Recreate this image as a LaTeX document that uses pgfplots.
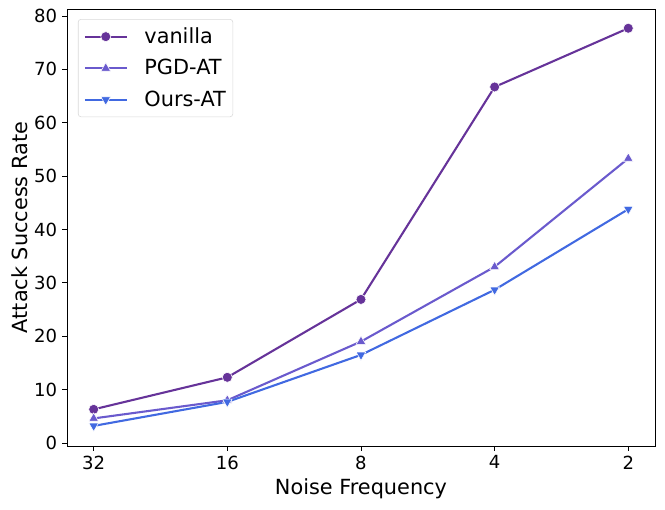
\documentclass[border=0pt]{standalone}
\usepackage{pgfplots}
\pgfplotsset{compat=1.18}
\usepackage{fontspec}
\setmainfont{DejaVu Sans}
\definecolor{cvan}{HTML}{663399}
\definecolor{cpgd}{HTML}{6A5ACD}
\definecolor{cours}{HTML}{4169E1}
\begin{document}
\begin{tikzpicture}
\begin{axis}[
  scale only axis,
  width=423.4pt, height=314.6pt,
  xmin=-0.2, xmax=4.2,
  ymin=-0.56, ymax=81.3,
  xtick={0,1,2,3,4},
  xticklabels={32,16,8,4,2},
  ytick={0,10,20,30,40,50,60,70,80},
  tick align=outside,
  tick pos=left,
  major tick length=3.5pt,
  tick style={black, line width=0.6pt},
  axis line style={line width=0.6pt},
  ticklabel style={font=\fontsize{13}{15}\selectfont},
  /pgf/number format/assume math mode=true,
  xlabel={Noise Frequency},
  ylabel={Attack Success Rate},
  label style={font=\fontsize{15}{17}\selectfont},
  xlabel style={yshift=0pt},
  ylabel style={yshift=-2pt},
  legend style={at={(0.0187,0.977)}, anchor=north west, font=\fontsize{15}{17}\selectfont,
     draw=black!15, rounded corners=2pt, inner xsep=4pt, inner ysep=5pt, row sep=8pt,
     nodes={inner sep=1pt},
     /tikz/every odd column/.append style={column sep=11pt}},
  legend cell align=left,
  legend image code/.code={\draw[line width=1.5pt, mark repeat=2,mark phase=2] plot coordinates {(0cm,0cm) (0.53cm,0cm) (1.06cm,0cm)};},
  every axis plot/.append style={line width=1.5pt},
]
\addplot[cvan, mark=*, mark size=3.6pt, mark options={draw=white, fill=cvan, line width=0.4pt}]
  coordinates {(0,6.3) (1,12.3) (2,26.9) (3,66.7) (4,77.7)};
\addlegendentry{vanilla}
\addplot[cpgd, mark=triangle*, mark size=4pt, mark options={draw=white, fill=cpgd, line width=0.4pt}]
  coordinates {(0,4.6) (1,8.0) (2,19.0) (3,33.0) (4,53.3)};
\addlegendentry{PGD-AT}
\addplot[cours, mark=triangle*, mark size=4pt, mark options={draw=white, fill=cours, line width=0.4pt, rotate=180}]
  coordinates {(0,3.2) (1,7.7) (2,16.5) (3,28.7) (4,43.8)};
\addlegendentry{Ours-AT}
\end{axis}
\pgfresetboundingbox
\path (current axis.south west) ++(-48.2pt,-45.4pt) coordinate (bbsw);
\path (current axis.north east) ++(7.2pt,6.5pt) coordinate (bbne);
\useasboundingbox (bbsw) rectangle (bbne);
\end{tikzpicture}
\end{document}
